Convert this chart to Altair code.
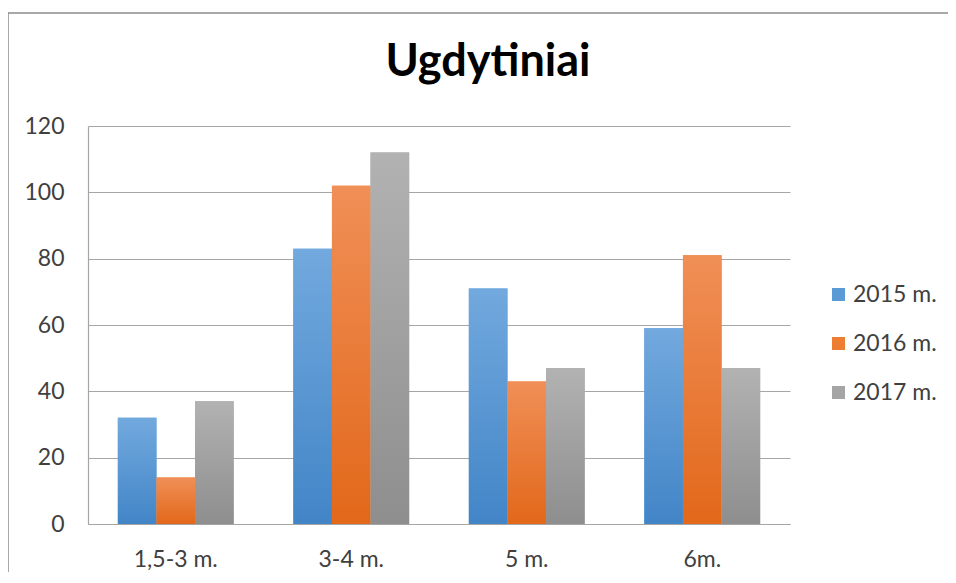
import altair as alt
import pandas as pd

categories = ["1,5-3 m.", "3-4 m.", "5 m.", "6m."]
years = ["2015 m.", "2016 m.", "2017 m."]
v2015 = [32, 83, 71, 59]
v2016 = [14, 102, 43, 81]
v2017 = [37, 112, 47, 47]

rows = []
for yr, vals in zip(years, [v2015, v2016, v2017]):
    for c, v in zip(categories, vals):
        rows.append({"cat": c, "year": yr, "value": v})
df = pd.DataFrame(rows)

solid = ["#5B9BD5", "#ED7D31", "#A5A5A5"]
grads = [
    ("#72A9DE", "#4285C7"),
    ("#F08F57", "#E2681A"),
    ("#B2B2B2", "#8E8E8E"),
]

FONT = "Lato"
TXT = "#404040"

x_enc = alt.X("cat:N", sort=categories, title=None,
              scale=alt.Scale(paddingInner=0.34, paddingOuter=0.17),
              axis=alt.Axis(labelAngle=0, ticks=False, labelPadding=24,
                            labelFontSize=23, labelColor=TXT,
                            labelFont=FONT, domainColor="#A6A6A6",
                            domainWidth=1.2, grid=False))
xo_enc = alt.XOffset("year:N", sort=years, scale=alt.Scale(paddingInner=0, paddingOuter=0))
y_enc = alt.Y("value:Q", title=None,
              scale=alt.Scale(domain=[0, 120], nice=False),
              axis=alt.Axis(values=[0, 20, 40, 60, 80, 100, 120], ticks=False,
                            labelPadding=24, labelFontSize=23, labelColor=TXT,
                            labelFont=FONT, domainColor="#A6A6A6", domainWidth=1.2,
                            gridColor="#A6A6A6", gridWidth=1.2))

base = alt.Chart(df)

legend_layer = base.mark_bar().encode(
    x=x_enc, xOffset=xo_enc, y=y_enc,
    color=alt.Color("year:N", sort=years,
                    scale=alt.Scale(domain=years, range=solid),
                    legend=alt.Legend(title=None, orient="none", legendX=739, legendY=157,
                                      symbolType="square", symbolSize=169,
                                      symbolStrokeWidth=0, labelFontSize=23,
                                      labelFont=FONT, labelColor=TXT,
                                      rowPadding=25, labelOffset=3)),
)

grad_layers = []
for yr, (top, bot) in zip(years, grads):
    g = alt.LinearGradient(gradient="linear", x1=0, x2=0, y1=0, y2=1,
                           stops=[alt.GradientStop(color=top, offset=0),
                                  alt.GradientStop(color=bot, offset=1)])
    grad_layers.append(
        base.transform_filter(alt.datum.year == yr)
        .mark_bar(color=g)
        .encode(x=x_enc, xOffset=xo_enc, y=y_enc)
    )

frame = alt.Chart(pd.DataFrame({"a": [0]})).mark_rect(
    fill=None, stroke="#8C8C8C", strokeWidth=1.5
).encode(x=alt.value(-80), x2=alt.value(890), y=alt.value(-113), y2=alt.value(480))

chart = alt.layer(frame, legend_layer, *grad_layers).properties(
    width=702, height=398,
    padding={"left": 80, "top": 118, "right": 158, "bottom": 48},
    autosize=alt.AutoSizeParams(type="none"),
    title=alt.TitleParams("Ugdytiniai", fontSize=45, font=FONT, fontWeight="bold",
                          color="#000000", anchor="middle", frame="group", dx=49,
                          offset=-109, baseline="alphabetic"),
).configure_view(stroke=None)

chart.save("out.html", embed_options={"renderer": "svg", "actions": False})
